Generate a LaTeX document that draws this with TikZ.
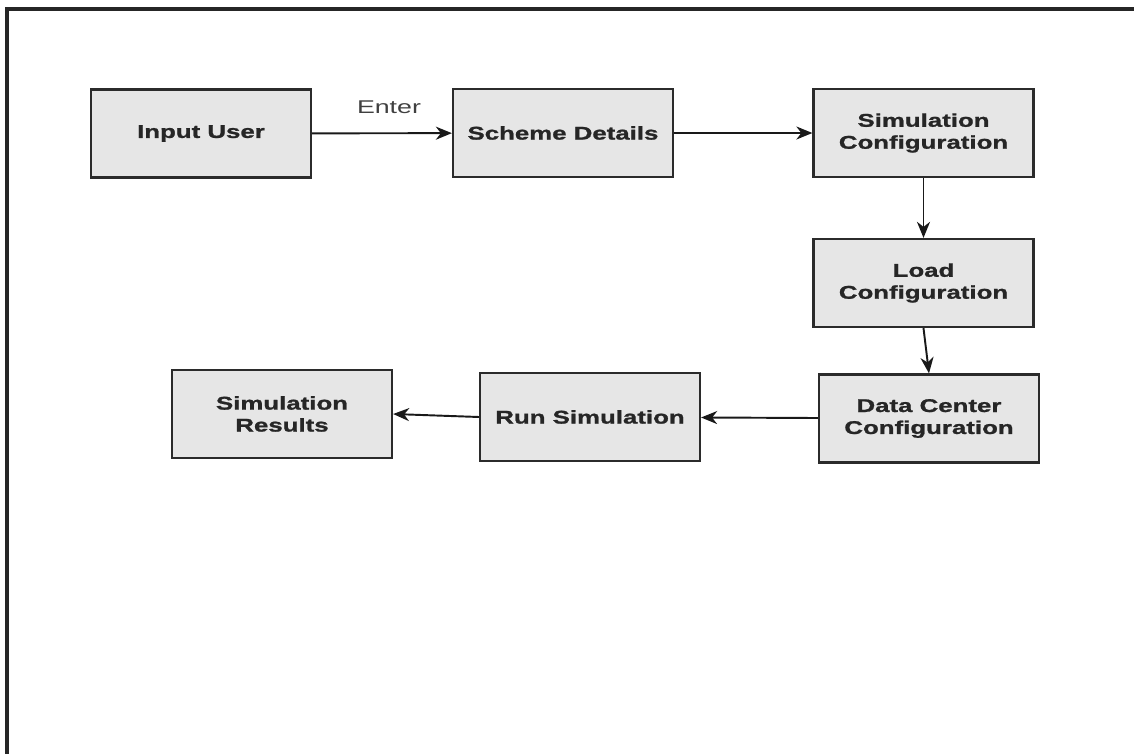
\documentclass[tikz,border=0pt]{standalone}
\usepackage{fontspec}
\setmainfont{Liberation Sans}
\newfontfamily\boxfont{Liberation Sans Bold}[FakeStretch = 1.4, FakeBold = 1.2]
\newfontfamily\labelfont{Liberation Sans}[FakeStretch = 1.45]
\usetikzlibrary{
    arrows.meta,
    calc,
    positioning,
    quotes
}
\definecolor{boxgray}{HTML}{E6E6E6}
\definecolor{edgegray}{HTML}{2B2B2B}
\tikzset{
    every picture/.style = {
        > = {Stealth[length = 0.32cm, width = 0.26cm, inset = 0.1cm]}
    },
    block/.style = {
        draw = edgegray,
        line width = 1.3pt,
        fill = boxgray,
        minimum width = 4.4cm,
        minimum height = 1.76cm,
        inner sep = 2pt,
        align = center,
        font = \boxfont\fontsize{10.5}{12.5}\selectfont,
        text = black!85
    },
    flow/.style = {
        ->,
        line width = 1.1pt,
        draw = black!90
    }
}

\begin{document}
\begin{tikzpicture}[x = 0.02cm, y = -0.02cm]

    \useasboundingbox (0, 0) rectangle (1134, 754);

    % frame round the page
    \draw[line width = 1.8pt, black!85] (7, 760) -- (7, 9) -- (1140, 9);

    \node[block] (user)    at (201, 133.5) {Input User};
    \node[block] (scheme)  at (563, 133)   {Scheme Details};
    \node[block] (simconf) at (923.5, 133) {Simulation\\Configuration};
    \node[block] (load)    at (923.5, 283) {Load\\Configuration};
    \node[block] (dcconf)  at (929, 418.5) {Data Center\\Configuration};
    \node[block] (run)     at (590, 417)   {Run Simulation};
    \node[block] (results) at (282, 414)   {Simulation\\Results};

    \draw[flow] (user) -- node[pos = 0.55, above = 7pt, font = \labelfont\fontsize{10.5}{12}\selectfont, text = black!75] (enter) {Enter} (scheme);
    \draw[flow] (scheme) -- (simconf);
    \draw[flow] (simconf) -- (load);
    \draw[flow] (load.south) -- (dcconf.north);
    \draw[flow] (dcconf) -- (run);
    \draw[flow] (run.west) -- (results.east);

\end{tikzpicture}
\end{document}
